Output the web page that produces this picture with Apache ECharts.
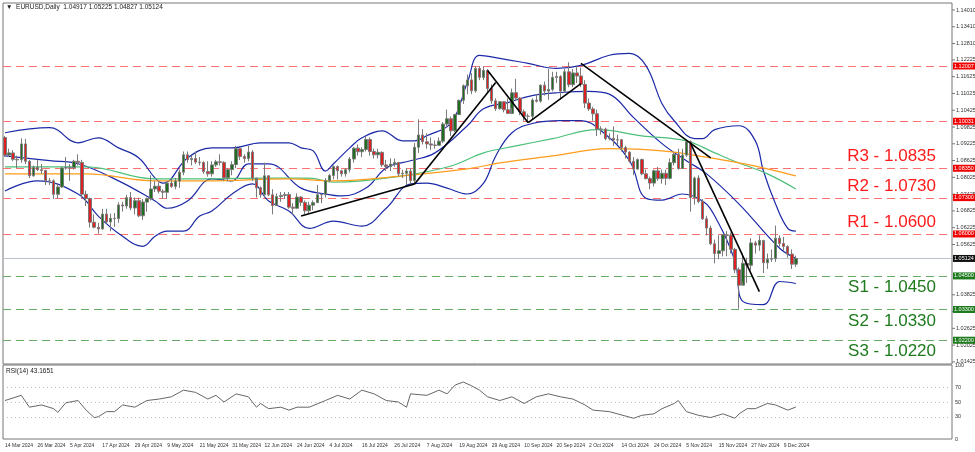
<!DOCTYPE html>
<html><head><meta charset="utf-8">
<script src="https://cdn.jsdelivr.net/npm/echarts@6/dist/echarts.min.js"></script>
<style>html,body{margin:0;padding:0;background:#fff}#c{width:975px;height:452px}</style>
</head><body><div id="c"></div>
<script>
// ---- data ----
const firstOpen = 1.0945;
const closes = [1.0882,1.0890,
1.0867,1.0865,1.0922,1.0860,1.0808, 1.0838,1.0830,1.0827,1.0790,1.0790,
1.0742,1.0768,1.0836,1.0837,1.0837, 1.0860,1.0856,1.0742,1.0727,1.0642,
1.0624,1.0618,1.0671,1.0643,1.0656, 1.0655,1.0704,1.0700,1.0730,1.0693,
1.0719,1.0665,1.0714,1.0726,1.0761, 1.0771,1.0753,1.0749,1.0782,1.0770,
1.0789,1.0821,1.0883,1.0866,1.0870, 1.0857,1.0856,1.0823,1.0815,1.0847,
1.0858,1.0856,1.0801,1.0830,1.0848, 1.0905,1.0877,1.0870,1.0893,1.0800,
1.0765,1.0740,1.0808,1.0740,1.0702, 1.0734,1.0738,1.0741,1.0696,1.0692,
1.0732,1.0713,1.0683,1.0703,1.0712, 1.0740,1.0741,1.0791,1.0809,1.0841,
1.0826,1.0815,1.0830,1.0868,1.0907, 1.0894,1.0902,1.0938,1.0895,1.0883,
1.0892,1.0847,1.0841,1.0850,1.0856, 1.0815,1.0817,1.0825,1.0791,1.0910,
1.0954,1.0930,1.0922,1.0918,1.0917, 1.0932,1.0993,1.1012,1.0969,1.1027,
1.1078,1.1130,1.1151,1.1112,1.1192, 1.1160,1.1185,1.1120,1.1076,1.1048,
1.1073,1.1044,1.1031,1.1105,1.1086, 1.1037,1.1021,1.1021,1.1079,1.1075,
1.1132,1.1111,1.1117,1.1160,1.1163, 1.1111,1.1180,1.1134,1.1176,1.1165,
1.1135,1.1068,1.1047,1.1030,1.0975, 1.0975,1.0941,1.0942,1.0936,1.0937,
1.0909,1.0893,1.0860,1.0832,1.0866, 1.0815,1.0798,1.0782,1.0826,1.0798,
1.0817,1.0799,1.0855,1.0885,1.0834, 1.0882,1.0930,1.0730,1.0800,1.0716,
1.0654,1.0621,1.0565,1.0530,1.0540, 1.0597,1.0595,1.0545,1.0472,1.0417,
1.0495,1.0488,1.0568,1.0560,1.0577, 1.0497,1.0510,1.0512,1.0585,1.0566,
1.0555,1.0528,1.0492,1.05124];
const highs = [1.0950,1.0905,
1.0900,1.0880,1.0942,1.0940,1.0865, 1.0845,1.0865,1.0850,1.0830,1.0800,
1.0795,1.0780,1.0840,1.0875,1.0850, 1.0865,1.0885,1.0865,1.0755,1.0730,
1.0670,1.0640,1.0690,1.0690,1.0673, 1.0675,1.0713,1.0715,1.0740,1.0750,
1.0730,1.0730,1.0725,1.0730,1.0810, 1.0790,1.0785,1.0760,1.0790,1.0800,
1.0800,1.0830,1.0895,1.0895,1.0880, 1.0895,1.0875,1.0860,1.0860,1.0860,
1.0865,1.0885,1.0860,1.0835,1.0860, 1.0915,1.0905,1.0885,1.0915,1.0900,
1.0785,1.0770,1.0855,1.0810,1.0760, 1.0745,1.0750,1.0750,1.0750,1.0710,
1.0745,1.0735,1.0720,1.0715,1.0720, 1.0775,1.0745,1.0800,1.0815,1.0845,
1.0845,1.0830,1.0835,1.0875,1.0910, 1.0920,1.0910,1.0948,1.0945,1.0905,
1.0905,1.0895,1.0865,1.0870,1.0870, 1.0855,1.0830,1.0835,1.0835,1.0925,
1.1010,1.0975,1.0960,1.0945,1.0935, 1.0945,1.1000,1.1045,1.1020,1.1030,
1.1080,1.1135,1.1170,1.1175,1.1200, 1.1200,1.1200,1.1190,1.1135,1.1085,
1.1075,1.1075,1.1085,1.1120,1.1155, 1.1090,1.1045,1.1030,1.1085,1.1100,
1.1135,1.1145,1.1190,1.1180,1.1180, 1.1168,1.1190,1.1214,1.1190,1.1200,
1.1195,1.1150,1.1085,1.1055,1.1045, 1.0985,1.0980,1.0960,1.0985,1.0955,
1.0940,1.0915,1.0895,1.0875,1.0870, 1.0870,1.0830,1.0805,1.0830,1.0840,
1.0830,1.0830,1.0870,1.0890,1.0905, 1.0905,1.0935,1.0935,1.0805,1.0810,
1.0725,1.0665,1.0630,1.0580,1.0595, 1.0600,1.0610,1.0605,1.0550,1.0480,
1.0530,1.0515,1.0585,1.0575,1.0595, 1.0570,1.0530,1.0545,1.0630,1.0595,
1.0590,1.0560,1.0545,1.05225];
const lows = [1.0875,1.0875,
1.0860,1.0835,1.0855,1.0850,1.0800, 1.0805,1.0825,1.0815,1.0775,1.0775,
1.0725,1.0725,1.0765,1.0830,1.0790, 1.0830,1.0845,1.0728,1.0700,1.0623,
1.0620,1.0601,1.0615,1.0637,1.0610, 1.0625,1.0640,1.0680,1.0690,1.0685,
1.0670,1.0660,1.0650,1.0680,1.0720, 1.0750,1.0745,1.0725,1.0725,1.0765,
1.0760,1.0765,1.0810,1.0855,1.0845, 1.0850,1.0845,1.0815,1.0805,1.0805,
1.0840,1.0845,1.0790,1.0790,1.0810, 1.0835,1.0865,1.0855,1.0860,1.0790,
1.0730,1.0730,1.0730,1.0735,1.0670, 1.0700,1.0715,1.0725,1.0690,1.0670,
1.0690,1.0700,1.0670,1.0675,1.0685, 1.0715,1.0710,1.0730,1.0785,1.0795,
1.0795,1.0805,1.0805,1.0820,1.0855, 1.0880,1.0875,1.0895,1.0880,1.0870,
1.0870,1.0840,1.0825,1.0825,1.0840, 1.0805,1.0800,1.0775,1.0775,1.0780,
1.0890,1.0920,1.0905,1.0900,1.0905, 1.0915,1.0925,1.0985,1.0950,1.0965,
1.1025,1.1065,1.1100,1.1100,1.1105, 1.1150,1.1150,1.1105,1.1065,1.1040,
1.1045,1.1035,1.1030,1.1050,1.1075, 1.1025,1.1005,1.1000,1.1010,1.1070,
1.1070,1.1095,1.1080,1.1110,1.1140, 1.1080,1.1105,1.1125,1.1125,1.1140,
1.1125,1.1050,1.1040,1.1005,1.0950, 1.0955,1.0935,1.0935,1.0915,1.0920,
1.0895,1.0870,1.0855,1.0810,1.0830, 1.0810,1.0795,1.0760,1.0770,1.0790,
1.0780,1.0775,1.0795,1.0845,1.0830, 1.0835,1.0875,1.0680,1.0705,1.0710,
1.0650,1.0595,1.0560,1.0495,1.0510, 1.0520,1.0520,1.0530,1.0460,1.0333,
1.0430,1.0425,1.0470,1.0530,1.0540, 1.0460,1.0475,1.0500,1.0500,1.0555,
1.0540,1.0515,1.0475,1.04827];
const bbUpper = [[0,1.0962],[11,1.0980],[18,1.0926],[23,1.0944],[28,1.0908],[33,1.0872],[37,1.0800],[39,1.0782],[45,1.0872],[51,1.0908],[56,1.0908],[63,1.0926],[70,1.0926],[73,1.0908],[76,1.0897],[79,1.0825],[81,1.0851],[85,1.0908],[88,1.0944],[93,1.0969],[98,1.0933],[101,1.0933],[104,1.0951],[110,1.0998],[114,1.1142],[117,1.1239],[122,1.1228],[129,1.1210],[136,1.1192],[142,1.1203],[149,1.1239],[154,1.1246],[158,1.1203],[162,1.1066],[165,1.1005],[170,1.0941],[172,1.0941],[175,1.0973],[181,1.0987],[185,1.0933],[187,1.0825],[190,1.0707],[193,1.0620],[195,1.0610]];
const bbMiddle = [[0,1.0879],[11,1.0862],[18,1.0851],[28,1.0790],[37,1.0718],[40,1.0692],[45,1.0718],[51,1.0797],[56,1.0790],[60,1.0851],[65,1.0851],[73,1.0764],[79,1.0743],[83,1.0736],[89,1.0764],[94,1.0836],[100,1.0862],[106,1.0890],[114,1.0987],[118,1.1048],[124,1.1070],[130,1.1095],[137,1.1106],[144,1.1110],[149,1.1100],[155,1.1016],[162,1.0923],[168,1.0862],[173,1.0815],[181,1.0707],[191,1.0549],[195,1.0513]];
const bbLower = [[0,1.0754],[8,1.0790],[18,1.0743],[23,1.0664],[28,1.0602],[34,1.0556],[37,1.0592],[40,1.0610],[44,1.0610],[48,1.0664],[51,1.0682],[56,1.0743],[61,1.0779],[65,1.0718],[70,1.0682],[75,1.0620],[81,1.0646],[88,1.0628],[94,1.0692],[100,1.0779],[104,1.0782],[109,1.0764],[114,1.0743],[118,1.0782],[121,1.0879],[125,1.0962],[130,1.0995],[137,1.1005],[142,1.1005],[147,1.0969],[154,1.0862],[158,1.0728],[162,1.0721],[167,1.0743],[172,1.0718],[175,1.0664],[180,1.0502],[182,1.0358],[187,1.0347],[191,1.0430],[195,1.0423]];
const maGreen = [[0,1.0840],[20,1.0840],[37,1.0797],[50,1.0797],[65,1.0800],[75,1.0800],[81,1.0785],[98,1.0808],[110,1.0843],[118,1.0890],[126,1.0915],[135,1.0941],[146,1.0973],[157,1.0951],[168,1.0933],[175,1.0890],[181,1.0854],[188,1.0815],[195,1.0761]];
const maOrange = [[0,1.0815],[20,1.0815],[37,1.0790],[50,1.0790],[70,1.0797],[81,1.0790],[98,1.0808],[114,1.0833],[122,1.0854],[135,1.0879],[149,1.0905],[162,1.0897],[174,1.0872],[181,1.0854],[188,1.0833],[195,1.0808]];
const trendLines = [[[72.8,1.0664],[101.2,1.0779]],[[100.7,1.0779],[121,1.1142]],[[118.5,1.1185],[129,1.0998]],[[129,1.0998],[142,1.1138]],[[141.5,1.1210],[174,1.0872]],[[168.6,1.0926],[186,1.0394]]];
const rsi = [[0,52],[4,59],[6,43],[9,46],[12,41],[13,36],[15,49],[18,52],[20,39],[22,29],[23,30],[25,37],[27,37],[29,46],[32,43],[35,52],[38,54],[41,57],[44,66],[47,63],[50,54],[52,59],[54,50],[57,61],[60,57],[62,43],[63,48],[65,41],[68,43],[70,39],[72,43],[75,43],[79,52],[82,59],[85,54],[88,66],[91,61],[94,52],[97,50],[99,43],[100,61],[104,59],[107,66],[109,61],[111,73],[113,77],[115,72],[117,66],[119,57],[122,52],[125,57],[128,48],[131,57],[134,61],[137,57],[140,54],[143,46],[145,39],[149,37],[151,34],[155,28],[157,32],[160,34],[162,41],[165,48],[166,52],[168,37],[171,32],[174,29],[177,34],[180,28],[181,34],[183,41],[185,41],[188,48],[190,46],[193,39],[195,43.17]];
const priceTicks = [1.14010,1.13410,1.12810,1.12225,1.11625,1.11025,1.10425,1.09825,1.09225,1.08625,1.08025,1.07425,1.06825,1.06225,1.05625,1.03825,1.03225,1.02625,1.02025,1.01425];
const resistances = [{name:'R3',v:1.0835,tag:'1.08350'},{name:'R2',v:1.0730,tag:'1.07300'},{name:'R1',v:1.0600,tag:'1.06000'}];
const supports = [{name:'S1',v:1.0450,tag:'1.04500'},{name:'S2',v:1.0330,tag:'1.03300'},{name:'S3',v:1.0220,tag:'1.02200'}];
const extraRed = [{v:1.12007,tag:'1.12007'},{v:1.10031,tag:'1.10031'}];
const lastPrice = 1.05124;
const header = '▼  EURUSD,Daily  1.04917 1.05225 1.04827 1.05124';
const rsiTitle = 'RSI(14) 43.1651';
const rsiLabels = [100,70,50,30,0];
const rsiLevels = [70,50,30];
const totalSlots = 234;
// ---- dates (weekdays from 14 Mar 2024) ----
const mon = ['Jan','Feb','Mar','Apr','May','Jun','Jul','Aug','Sep','Oct','Nov','Dec'];
const cats = [];
let d = new Date(Date.UTC(2024,2,14));
while (cats.length < totalSlots) {
  const wd = d.getUTCDay();
  if (wd !== 0 && wd !== 6) cats.push(cats.length < closes.length ? d.getUTCDate()+' '+mon[d.getUTCMonth()]+' '+d.getUTCFullYear() : '');
  d = new Date(d.getTime()+86400000);
}
const ohlc = closes.map((c,i)=>[i===0?firstOpen:closes[i-1], c, lows[i], highs[i]]);

const chart = echarts.init(document.getElementById('c'),null,{renderer:'canvas'});
const lineS = (data,color,w)=>({type:'line',data,xAxisIndex:0,yAxisIndex:0,smooth:0.4,symbol:'none',lineStyle:{color,width:w},silent:true,z:3});
chart.setOption({
  animation:false,
  grid:[{left:3,right:23,top:3,height:361,show:true,borderColor:'#777',borderWidth:1},
        {left:3,right:23,top:365,height:74,show:true,borderColor:'#777',borderWidth:1}],
  xAxis:[{type:'category',data:cats,gridIndex:0,boundaryGap:true,axisLine:{show:false},axisTick:{show:false},axisLabel:{show:false}},
         {type:'category',data:cats,gridIndex:1,boundaryGap:true,axisLine:{show:false},axisTick:{show:false},
          axisLabel:{interval:(i)=>i%8===0&&i<closes.length,fontSize:5,color:'#333',align:'left',margin:4,hideOverlap:false}}],
  yAxis:[{type:'value',gridIndex:0,min:1.0135,max:1.1426,position:'right',axisLine:{show:false},axisTick:{show:false},axisLabel:{show:false},splitLine:{show:false}},
         {type:'value',gridIndex:1,min:0,max:100,interval:10,position:'right',axisLine:{show:false},axisTick:{show:false},splitLine:{show:false},
          axisLabel:{fontSize:5.5,color:'#333',margin:3,formatter:v=>rsiLabels.includes(v)?String(v):''}}],
  series:[
    {type:'candlestick',data:ohlc,barWidth:3,z:4,
     itemStyle:{color:'#1f6e1f',color0:'#e02020',borderColor:'#7a7a7a',borderColor0:'#7a7a7a',borderWidth:1}},
    lineS(bbUpper,'#1c2aa8',1.2),lineS(bbMiddle,'#1c2aa8',1.2),lineS(bbLower,'#1c2aa8',1.2),
    lineS(maGreen,'#4cc07a',1.2),lineS(maOrange,'#ff9c1a',1.2),
    ...trendLines.map(t=>({type:'line',data:t,symbol:'none',lineStyle:{color:'#000',width:1.6},silent:true,z:5})),
    {type:'line',data:rsi,xAxisIndex:1,yAxisIndex:1,symbol:'none',lineStyle:{color:'#666',width:1},z:3}
  ]
});
// levels and right-side price labels, placed through the axis scales
const L = 3, R = 952;
const py = v => chart.convertToPixel({yAxisIndex:0}, v);
const ry = v => chart.convertToPixel({yAxisIndex:1}, v);
const g = [{type:'text',left:6,top:4,style:{text:header,fontSize:6.5,fill:'#222',fontFamily:'Arial'}},
           {type:'text',left:6,top:368,style:{text:rsiTitle,fontSize:6.5,fill:'#222',fontFamily:'Arial'}}];
function hline(y,stroke,dash){g.push({type:'line',z:1,silent:true,shape:{x1:L,y1:y,x2:R,y2:y},style:{stroke,lineWidth:1,lineDash:dash}});}
rsiLevels.forEach(v=>hline(Math.round(ry(v))+0.5,'#bbb',[1,3]));
priceTicks.forEach(t=>{g.push({type:'line',shape:{x1:952,y1:py(t),x2:955,y2:py(t)},style:{stroke:'#777'}});
  g.push({type:'text',x:956,y:py(t),style:{text:t.toFixed(5),fontSize:5.5,fill:'#333',verticalAlign:'middle',fontFamily:'Arial'}});});
function tag(v,txt,bg){g.push({type:'rect',shape:{x:953,y:py(v)-3.5,width:22,height:7},style:{fill:bg},z:10});
  g.push({type:'text',x:954,y:py(v),z:11,style:{text:txt,fontSize:5.5,fill:'#fff',verticalAlign:'middle',fontFamily:'Arial'}});}
function big(v,txt,col,above){g.push({type:'text',x:936,y:py(v)+(above?-3:3),z:6,style:{text:txt,fontSize:17,fill:col,align:'right',verticalAlign:above?'bottom':'top',fontFamily:'Liberation Sans, Arial'}});}
hline(Math.round(py(lastPrice))+0.5,'#b8c0cc',null);
extraRed.forEach(e=>{hline(Math.round(py(e.v))+0.5,'#ff7070',[8,5]);tag(e.v,e.tag,'#f00000');});
resistances.forEach(e=>{hline(Math.round(py(e.v))+0.5,'#ff7070',[8,5]);tag(e.v,e.tag,'#f00000');big(e.v,e.name+' - '+e.v.toFixed(4),'#ff1a1a',true);});
supports.forEach(e=>{hline(Math.round(py(e.v))+0.5,'#66aa66',[8,5]);tag(e.v,e.tag,'#1d7a1d');big(e.v,e.name+' - '+e.v.toFixed(4),'#1d7a1d',false);});
tag(lastPrice,lastPrice.toFixed(5),'#111');
chart.setOption({graphic:g});
</script></body></html>
